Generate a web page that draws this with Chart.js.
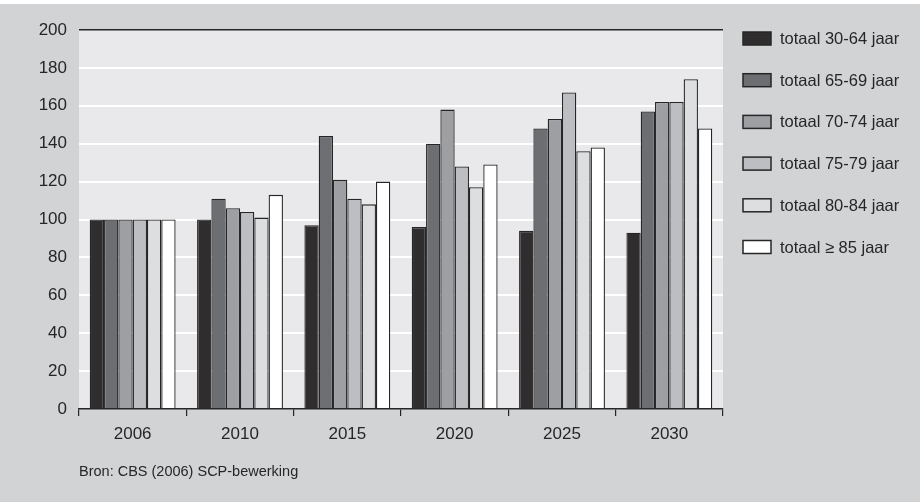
<!DOCTYPE html>
<html>
<head>
<meta charset="utf-8">
<title>Index per leeftijdsgroep, 2006-2030</title>
<script src="https://cdn.jsdelivr.net/npm/chart.js@4/dist/chart.umd.min.js"></script>
<style>
  html, body { margin: 0; padding: 0; background: #d2d3d5; }
  canvas { display: block; }
</style>
</head>
<body>
<canvas id="c" width="920" height="502"></canvas>
<script>
// Categories (years) and index values (2006 = 100) per age group
const years = ['2006', '2010', '2015', '2020', '2025', '2030'];
const seriesLabels = [
  'totaal 30-64 jaar',
  'totaal 65-69 jaar',
  'totaal 70-74 jaar',
  'totaal 75-79 jaar',
  'totaal 80-84 jaar',
  'totaal \u2265 85 jaar'
];
const age30to64 = [100, 100, 97, 96, 94, 93];
const age65to69 = [100, 111, 144, 140, 148, 157];
const age70to74 = [100, 106, 121, 158, 153, 162];
const age75to79 = [100, 104, 111, 128, 167, 162];
const age80to84 = [100, 101, 108, 117, 136, 174];
const age85plus = [100, 113, 120, 129, 138, 148];
const yTicks = [0, 20, 40, 60, 80, 100, 120, 140, 160, 180, 200];
const sourceNote = 'Bron: CBS (2006) SCP-bewerking';

const seriesValues = [age30to64, age65to69, age70to74, age75to79, age80to84, age85plus];
const fills = ['#302d2e', '#6d6e72', '#9e9fa3', '#bdbec2', '#dddee0', '#ffffff'];
const ink = '#262626';
const fontFamily = '"Liberation Sans", Arial, sans-serif';

const PLOT_LEFT = 79;
const PLOT_RIGHT = 723;
const PLOT_TOP = 30;
const PLOT_BOTTOM = 409;

// Page background, plot background, custom legend and source line
const decor = {
  id: 'decor',
  beforeDraw(chart) {
    const { ctx, chartArea: a } = chart;
    ctx.save();
    ctx.fillStyle = '#d2d3d5';
    ctx.fillRect(0, 0, chart.width, chart.height);
    ctx.fillStyle = '#ffffff';
    ctx.fillRect(0, 0, chart.width, 4);
    ctx.fillStyle = '#e9e9eb';
    ctx.fillRect(a.left, a.top, a.right - a.left, a.bottom - a.top);
    ctx.restore();
  },
  afterDraw(chart) {
    const { ctx } = chart;
    ctx.save();
    ctx.font = '16.5px ' + fontFamily;
    ctx.textBaseline = 'middle';
    ctx.textAlign = 'left';
    chart.data.datasets.forEach((ds, i) => {
      const cy = 38.5 + i * 41.7;
      ctx.fillStyle = ds.backgroundColor;
      ctx.fillRect(743, cy - 6.5, 28, 13);
      ctx.strokeStyle = ink;
      ctx.lineWidth = 1.5;
      ctx.strokeRect(743, cy - 6.5, 28, 13);
      ctx.fillStyle = ink;
      ctx.fillText(ds.label, 780, cy + 1);
    });
    ctx.font = '14.5px ' + fontFamily;
    ctx.fillText(sourceNote, 79, 471.5);
    ctx.restore();
  }
};

new Chart(document.getElementById('c'), {
  type: 'bar',
  data: {
    labels: years,
    datasets: seriesLabels.map((label, i) => ({
      label,
      data: seriesValues[i],
      backgroundColor: fills[i],
      borderColor: ink,
      borderWidth: 1.3,
      categoryPercentage: 0.8,
      barPercentage: 1.0
    }))
  },
  options: {
    responsive: false,
    devicePixelRatio: 1,
    animation: false,
    layout: { padding: { top: PLOT_TOP, right: 920 - PLOT_RIGHT, bottom: 0, left: 0 } },
    plugins: {
      legend: { display: false },
      tooltip: { enabled: false }
    },
    scales: {
      x: {
        afterFit(scale) { scale.height = 502 - PLOT_BOTTOM; },
        border: { display: true, color: ink, width: 1.5 },
        grid: {
          offset: true,
          drawOnChartArea: false,
          drawTicks: true,
          tickLength: 7,
          color: ink,
          lineWidth: 1.2
        },
        ticks: {
          color: ink,
          padding: 8,
          font: { family: fontFamily, size: 17 }
        }
      },
      y: {
        min: 0,
        max: 200,
        afterFit(scale) { scale.width = PLOT_LEFT; },
        afterBuildTicks(scale) { scale.ticks = yTicks.map(v => ({ value: v })); },
        border: { display: false },
        grid: {
          drawTicks: false,
          color: c => c.tick.value === 200 ? ink : (c.tick.value === 0 ? 'rgba(0,0,0,0)' : '#ffffff'),
          lineWidth: c => c.tick.value === 200 ? 1.5 : 2
        },
        ticks: {
          color: ink,
          padding: 12,
          font: { family: fontFamily, size: 17 }
        }
      }
    }
  },
  plugins: [decor]
});
</script>
</body>
</html>
